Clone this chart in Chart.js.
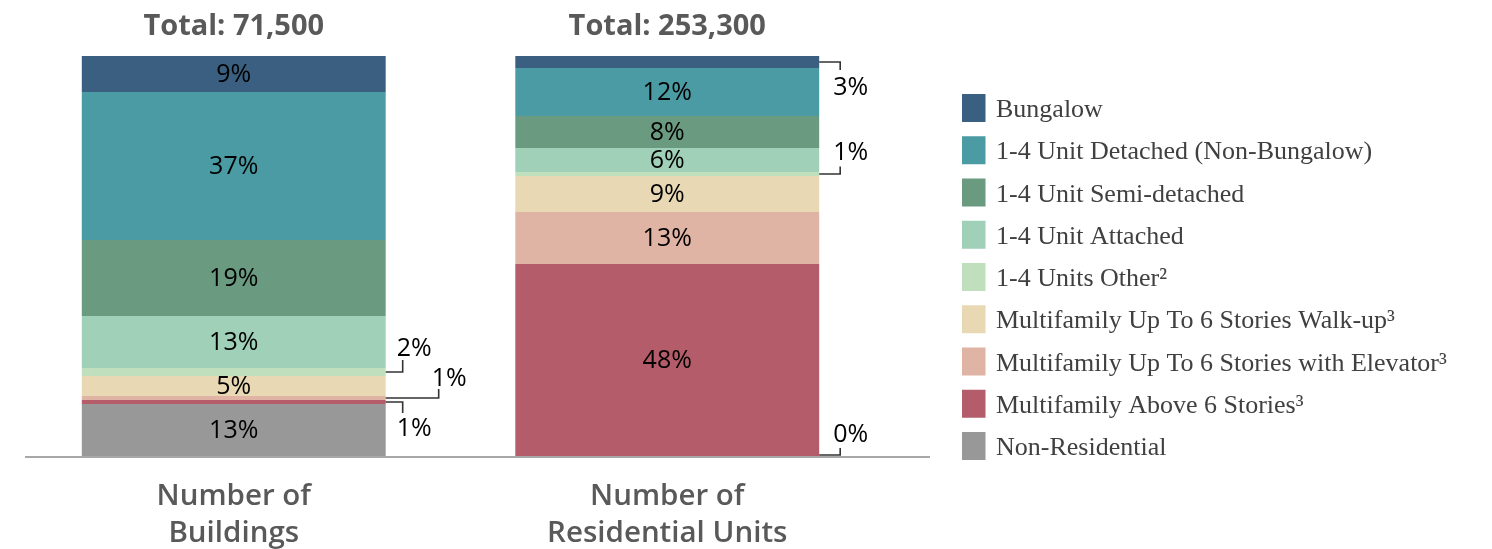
<!DOCTYPE html>
<html>
<head>
<meta charset="utf-8">
<script src="https://cdn.jsdelivr.net/npm/chart.js@4.4.1/dist/chart.umd.min.js"></script>
<style>
  html, body { margin: 0; padding: 0; background: #ffffff; }
  #wrap { width: 1492px; height: 549px; position: relative; }
</style>
</head>
<body>
<div id="wrap"><canvas id="c" width="1492" height="549"></canvas></div>
<script>
// ---------- DATA ----------
const categories = [['Number of', 'Buildings'], ['Number of', 'Residential Units']];
const totals = ['Total: 71,500', 'Total: 253,300'];
const seriesNames = [
  'Bungalow',
  '1-4 Unit Detached (Non-Bungalow)',
  '1-4 Unit Semi-detached',
  '1-4 Unit Attached',
  '1-4 Units Other\u00B2',
  'Multifamily Up To 6 Stories Walk-up\u00B3',
  'Multifamily Up To 6 Stories with Elevator\u00B3',
  'Multifamily Above 6 Stories\u00B3',
  'Non-Residential'
];
const buildingsPct = [9, 37, 19, 13, 2, 5, 1, 1, 13];
const unitsPct     = [3, 12, 8, 6, 1, 9, 13, 48, 0];

// ---------- STYLE ----------
const seriesColors = ['#3a5f80', '#4a9ba3', '#6a9a80', '#a0d0b8', '#c0dfbc', '#e8d9b4', '#e0b4a4', '#b55c6a', '#989898'];
// callouts for small segments: [seriesIndex, barIndex, elbowDx, elbowDy, textDx, textDy]
const callouts = [
  [4, 0, 17, -12, 28.5, -24],
  [6, 0, 53, -9, 63.5, -20],
  [7, 0, 17, 11, 28.5, 26],
  [0, 1, 21, 8, 31.5, 25],
  [4, 1, 21, -7.5, 31.5, -22],
  [8, 1, 21, -7, 31.5, -22]
];
const INSIDE_MIN = 4;

// datasets: bottom of stack first
const datasets = [];
for (let i = seriesNames.length - 1; i >= 0; i--) {
  datasets.push({
    label: seriesNames[i],
    sIndex: i,
    data: [buildingsPct[i], unitsPct[i]],
    backgroundColor: seriesColors[i],
    borderWidth: 0,
    barPercentage: 0.701,
    categoryPercentage: 1.0
  });
}

function elFor(chart, sIndex, bar) {
  const dsIdx = chart.data.datasets.findIndex(d => d.sIndex === sIndex);
  return chart.getDatasetMeta(dsIdx).data[bar];
}

const decor = {
  id: 'decor',
  afterDatasetsDraw(chart) {
    const ctx = chart.ctx;
    const xs = chart.scales.x;
    ctx.save();
    // baseline
    ctx.strokeStyle = '#a8a8a8';
    ctx.lineWidth = 2;
    ctx.beginPath();
    ctx.moveTo(25, 457);
    ctx.lineTo(930, 457);
    ctx.stroke();

    // totals
    ctx.fillStyle = '#595959';
    ctx.font = '700 29px "Open Sans"';
    ctx.textAlign = 'center';
    ctx.textBaseline = 'middle';
    totals.forEach((t, i) => ctx.fillText(t, xs.getPixelForValue(i), 27));

    // inside labels
    ctx.fillStyle = '#000000';
    ctx.font = '500 25px "Open Sans"';
    chart.data.datasets.forEach((ds, di) => {
      const meta = chart.getDatasetMeta(di);
      ds.data.forEach((v, bi) => {
        if (v >= INSIDE_MIN) {
          const el = meta.data[bi];
          ctx.fillText(v + '%', el.x, (el.y + el.base) / 2 + 1);
        }
      });
    });

    // callouts
    ctx.strokeStyle = '#333333';
    ctx.lineWidth = 1.6;
    callouts.forEach(([s, b, edx, edy, tdx, tdy]) => {
      const el = elFor(chart, s, b);
      const right = el.x + el.width / 2;
      const cy = (el.y + el.base) / 2;
      const ly = (s === 8 && b === 1) ? cy - 1 : cy;
      ctx.beginPath();
      ctx.moveTo(right, ly);
      ctx.lineTo(right + edx, ly);
      ctx.lineTo(right + edx, ly + edy);
      ctx.stroke();
      const val = b === 0 ? buildingsPct[s] : unitsPct[s];
      ctx.fillText(val + '%', right + tdx, cy + tdy + 1);
    });

    // legend
    ctx.textAlign = 'left';
    ctx.textBaseline = 'alphabetic';
    ctx.font = '26px "Liberation Serif"';
    seriesNames.forEach((name, i) => {
      const cyL = 108 + 42.25 * i;
      ctx.fillStyle = seriesColors[i];
      ctx.fillRect(962, cyL - 14, 23.5, 28);
      ctx.fillStyle = '#404040';
      ctx.fillText(name, 996, cyL + 9);
    });
    ctx.restore();
  }
};

new Chart(document.getElementById('c'), {
  type: 'bar',
  data: { labels: categories, datasets: datasets },
  options: {
    responsive: false,
    animation: false,
    devicePixelRatio: 1,
    layout: { padding: { top: 56, left: 17, right: 608, bottom: 0 } },
    plugins: { legend: { display: false }, tooltip: { enabled: false } },
    scales: {
      x: {
        stacked: true,
        grid: { display: false, drawTicks: false },
        border: { display: false },
        ticks: {
          color: '#595959',
          font: { family: '"Open Sans"', size: 29.5, weight: '600', lineHeight: 1.25 },
          padding: 22,
          maxRotation: 0,
          autoSkip: false
        },
        afterFit(scale) { scale.height = 93; }
      },
      y: {
        stacked: true,
        display: false,
        min: 0,
        max: 100
      }
    }
  },
  plugins: [decor]
});
</script>
</body>
</html>
